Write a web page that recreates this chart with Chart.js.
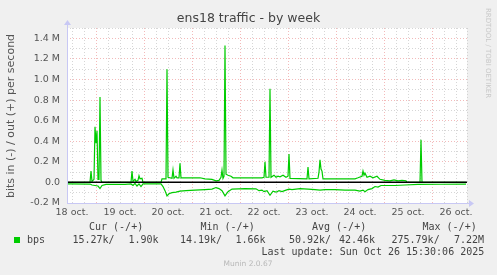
<!DOCTYPE html>
<html>
<head>
<meta charset="utf-8">
<script src="https://cdn.jsdelivr.net/npm/chart.js@4.4.0/dist/chart.umd.min.js"></script>
<style>
  body { margin: 0; background: #f0f0f0; }
  canvas { display: block; }
</style>
</head>
<body>
<canvas id="myChart" width="497" height="275"></canvas>
<script>
// hours since 18 oct 00:00, values in M bits per second
var outHours = [9.5, 21, 21.5, 22, 23, 23.5, 24, 24.5, 25, 25.5, 26, 26.5, 27, 41.5, 42, 42.5, 43.5, 44, 45, 45.5, 46, 47, 47.5,
  56.5, 57, 59, 59.5, 60, 62, 62.5, 63, 64, 64.5, 65.5, 66, 66.5, 76, 78.5, 82, 84, 85.5, 86.5, 87, 87.5, 88, 88.5, 89, 90, 91.5, 92.5,
  107, 108, 108.5, 109, 110.5, 111, 111.5, 113, 114, 115, 116, 117.5, 119, 120, 120.5, 121, 129.5, 130, 130.5,
  135, 135.5, 136, 136.5, 137, 137.5, 153.5, 155, 157, 157.5, 158, 158.5, 159.5, 161, 162.5, 164.5, 166, 168.5,
  171, 173, 175, 177, 179, 179.5, 186, 186.5, 187, 209];
var outMbps = [0, 0, 0.11, 0.01, 0.03, 0.54, 0.38, 0.5, 0.03, 0.03, 0.83, 0.02, 0, 0, 0.11, 0.01, 0.03, 0.01, 0.02, 0.065, 0.035, 0.04, 0,
  0, 0.035, 0.035, 1.1, 0.05, 0.04, 0.12, 0.04, 0.06, 0.045, 0.045, 0.185, 0.045, 0.045, 0.035, 0.03, 0.015, 0.02, 0.05, 0.12, 0.04, 0.06, 1.33, 0.08, 0.07, 0.06, 0.045,
  0.045, 0.05, 0.2, 0.05, 0.05, 0.91, 0.05, 0.07, 0.05, 0.06, 0.055, 0.07, 0.05, 0.06, 0.275, 0.04, 0.035, 0.15, 0.035,
  0.04, 0.1, 0.22, 0.13, 0.11, 0.035, 0.035, 0.045, 0.06, 0.11, 0.07, 0.09, 0.05, 0.06, 0.045, 0.06, 0.03, 0.02,
  0.015, 0.025, 0.015, 0.02, 0.015, 0, 0, 0.415, 0, 0];

var inHours = [9.5, 21, 22, 23.5, 25, 26, 27, 29, 33.5, 38.5, 41.5, 42.5, 43.5, 44.5, 45.5, 46.5, 47.5, 56.5, 57.5, 58.5, 59.5, 60.5,
  62, 64, 66, 69, 73.5, 78.5, 82, 84, 85.5, 87, 88.5, 90, 92, 98.5, 104, 105.5, 107, 108, 109.5, 111, 112.5, 114, 115.5, 117,
  119, 120.5, 122, 126, 130, 133.5, 136, 138.5, 143.5, 148.5, 153.5, 156, 157.5, 158.5, 160, 162, 163.5, 165, 166.5,
  173.5, 178.5, 185, 196, 209];
var inMbps = [-0.015, -0.016, -0.025, -0.03, -0.035, -0.06, -0.03, -0.02, -0.018, -0.02, -0.015, -0.03, -0.01, -0.035, -0.015, -0.04, -0.015, -0.015, -0.04, -0.08, -0.13, -0.11,
  -0.1, -0.095, -0.085, -0.08, -0.075, -0.07, -0.065, -0.05, -0.06, -0.08, -0.13, -0.09, -0.065, -0.06, -0.062, -0.08, -0.075, -0.09, -0.08, -0.125, -0.085, -0.095, -0.08, -0.09,
  -0.075, -0.065, -0.07, -0.06, -0.065, -0.07, -0.075, -0.07, -0.07, -0.075, -0.075, -0.085, -0.075, -0.09, -0.07, -0.06, -0.04, -0.045, -0.03,
  -0.03, -0.025, -0.02, -0.018, -0.017];

var dayLabels = ['18 oct.', '19 oct.', '20 oct.', '21 oct.', '22 oct.', '23 oct.', '24 oct.', '25 oct.', '26 oct.'];
var legendHead = ['Cur (-/+)', 'Min (-/+)', 'Avg (-/+)', 'Max (-/+)'];
var legendVals = ['15.27k/', '1.90k', '14.19k/', '1.66k', '50.92k/', '42.46k', '275.79k/', '7.22M'];

function toPoints(xs, ys) {
  var pts = [];
  for (var i = 0; i < xs.length; i++) pts.push({ x: xs[i], y: ys[i] });
  return pts;
}

var GREEN = '#00cc00';
var MAJOR = 'rgba(235,140,140,0.6)';
var MINOR = 'rgba(200,200,200,0.75)';

var munin = {
  id: 'munin',
  beforeDraw: function (chart) {
    var c = chart.ctx, a = chart.chartArea;
    c.save();
    c.fillStyle = '#ffffff';
    c.fillRect(a.left, a.top, a.right - a.left, a.bottom - a.top);
    c.restore();
  },
  afterDatasetsDraw: function (chart) {
    var c = chart.ctx, a = chart.chartArea;
    var y0 = Math.round(chart.scales.y.getPixelForValue(0));
    c.save();
    // zero line
    c.strokeStyle = '#000';
    c.lineWidth = 1.5;
    c.beginPath();
    c.moveTo(a.left, y0 + 0.25);
    c.lineTo(a.right, y0 + 0.25);
    c.stroke();
    // axes with arrows
    c.strokeStyle = '#c8c8f4';
    c.fillStyle = '#c8c8f4';
    c.lineWidth = 1;
    c.beginPath();
    c.moveTo(a.left + 0.5, a.bottom);
    c.lineTo(a.left + 0.5, a.top - 4);
    c.moveTo(a.left, a.bottom + 0.5);
    c.lineTo(a.right + 4, a.bottom + 0.5);
    c.stroke();
    c.beginPath();
    c.moveTo(a.left - 3, a.top - 3);
    c.lineTo(a.left + 4, a.top - 3);
    c.lineTo(a.left + 0.5, a.top - 8);
    c.fill();
    c.beginPath();
    c.moveTo(a.right + 2, a.bottom - 3);
    c.lineTo(a.right + 2, a.bottom + 4);
    c.lineTo(a.right + 7, a.bottom + 0.5);
    c.fill();
    c.restore();
  },
  afterDraw: function (chart) {
    var c = chart.ctx;
    c.save();
    c.textBaseline = 'middle';
    // title
    c.fillStyle = '#444';
    c.font = '12.5px "DejaVu Sans"';
    c.textAlign = 'center';
    c.fillText('ens18 traffic - by week', 248.5, 19);
    // y axis title
    c.save();
    c.translate(11, 116);
    c.rotate(-Math.PI / 2);
    c.font = '11px "DejaVu Sans"';
    c.fillStyle = '#555';
    c.fillText('bits in (-) / out (+) per second', 0, 0);
    c.restore();
    // watermark
    c.save();
    c.translate(488, 53);
    c.rotate(Math.PI / 2);
    c.font = '7px "DejaVu Sans"';
    c.fillStyle = '#c8c8c8';
    c.fillText('RRDTOOL / TOBI OETIKER', 0, 0);
    c.restore();
    // legend table
    c.textAlign = 'left';
    c.font = '10px "DejaVu Sans Mono"';
    c.fillStyle = '#444';
    var headX = [89, 200.5, 312, 422.5];
    for (var i = 0; i < legendHead.length; i++) c.fillText(legendHead[i], headX[i], 227);
    c.fillStyle = GREEN;
    c.fillRect(14, 237, 6, 6);
    c.fillStyle = '#444';
    c.fillText('bps', 27, 240);
    var valX = [72.5, 128.5, 180, 235.5, 289, 339, 391.5, 454];
    for (var j = 0; j < legendVals.length; j++) c.fillText(legendVals[j], valX[j], 240);
    c.fillText('Last update: Sun Oct 26 15:30:06 2025', 261.5, 252);
    c.font = '7.5px "DejaVu Sans"';
    c.fillStyle = '#b8b8b8';
    c.textAlign = 'center';
    c.fillText('Munin 2.0.67', 248, 264);
    c.restore();
  }
};

var ctx = document.getElementById('myChart').getContext('2d');
var myChart = new Chart(ctx, {
  type: 'line',
  data: {
    datasets: [{
      label: 'out',
      data: toPoints(outHours, outMbps),
      borderColor: GREEN,
      borderWidth: 1.2,
      pointRadius: 0,
      fill: false,
      tension: 0
    }, {
      label: 'in',
      data: toPoints(inHours, inMbps),
      borderColor: GREEN,
      borderWidth: 1.2,
      pointRadius: 0,
      fill: false,
      tension: 0
    }]
  },
  options: {
    responsive: false,
    animation: false,
    layout: { padding: { top: 28, right: 30, left: 0, bottom: 0 } },
    plugins: {
      legend: { display: false },
      tooltip: { enabled: false },
      title: { display: false }
    },
    scales: {
      x: {
        type: 'linear',
        min: 9.5,
        max: 209.5,
        afterFit: function (scale) { scale.height = 72; },
        afterBuildTicks: function (scale) {
          var t = [{ value: 9.5 }];
          for (var h = 12; h <= 204; h += 6) t.push({ value: h });
          t.push({ value: 209.5 });
          scale.ticks = t;
        },
        grid: {
          drawTicks: false,
          lineWidth: 1,
          color: function (c) {
            var v = c.tick ? c.tick.value : 1;
            return v % 24 === 0 ? MAJOR : MINOR;
          }
        },
        border: { display: false, dash: [1, 2] },
        ticks: {
          autoSkip: false,
          maxRotation: 0,
          minRotation: 0,
          padding: 4,
          color: '#555',
          font: { family: 'DejaVu Sans', size: 9.5 },
          callback: function (v) {
            if (v % 24 === 12) return dayLabels[(v - 12) / 24];
            return '';
          }
        }
      },
      y: {
        min: -0.2,
        max: 1.5,
        afterFit: function (scale) { scale.width = 67; },
        afterBuildTicks: function (scale) {
          var t = [];
          for (var k = -2; k <= 15; k++) t.push({ value: k / 10 });
          scale.ticks = t;
        },
        grid: {
          drawTicks: false,
          lineWidth: 1,
          color: function (c) {
            var v = c.tick ? Math.round(c.tick.value * 10) : 1;
            return v % 2 === 0 ? MAJOR : MINOR;
          }
        },
        border: { display: false, dash: [1, 2] },
        ticks: {
          autoSkip: false,
          padding: 7,
          color: '#555',
          font: { family: 'DejaVu Sans', size: 9.5 },
          callback: function (v) {
            var k = Math.round(v * 10);
            if (k % 2 !== 0) return '';
            if (k === 0) return '0.0';
            return (k / 10).toFixed(1) + ' M';
          }
        }
      }
    }
  },
  plugins: [munin]
});
</script>
</body>
</html>
